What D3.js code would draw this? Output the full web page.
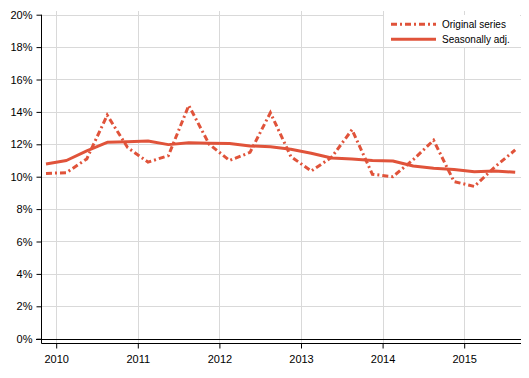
<!DOCTYPE html>
<html>
<head>
<meta charset="utf-8">
<script src="https://cdn.jsdelivr.net/npm/d3@7"></script>
<style>
  body { margin: 0; background: #fff; }
  svg { display: block; font-family: Arial, "Liberation Sans", sans-serif; }
</style>
</head>
<body>
<div id="chart"></div>
<script>
// Quarterly data (2009Q4 – 2015Q3), index positions along the axis
const quarters = d3.range(24);
const originalSeries = [10.2, 10.25, 11.1, 13.8, 11.8, 10.9, 11.3, 14.4, 12.0, 11.0, 11.5, 13.95,
                        11.25, 10.35, 11.2, 12.9, 10.15, 10.0, 11.05, 12.25, 9.7, 9.4, 10.6, 11.65];
const seasonallyAdj = [10.78, 11.0, 11.6, 12.12, 12.15, 12.2, 11.98, 12.1, 12.07, 12.05, 11.9, 11.85,
                       11.69, 11.45, 11.15, 11.1, 11.0, 10.97, 10.66, 10.52, 10.45, 10.31, 10.35, 10.27];
const yearLabels = ["2010", "2011", "2012", "2013", "2014", "2015"];
const yearTickPos = [0.5, 4.5, 8.5, 12.5, 16.5, 20.5];
const yTicks = [0, 2, 4, 6, 8, 10, 12, 14, 16, 18, 20];
const seriesNames = ["Original series", "Seasonally adj."];

const W = 529, H = 378;
const color = "#e0533a";
const plotLeft = 41.5, plotRight = 521, plotTop = 11, axisBottom = 343.5;

const svg = d3.select("#chart").append("svg").attr("width", W).attr("height", H);

const x = d3.scaleLinear().domain([0, 23]).range([46, 515.2]);
const y = d3.scaleLinear().domain([0, 20]).range([338.7, 14.7]);

// horizontal gridlines
svg.append("g").selectAll("line").data(yTicks.filter(d => d > 0)).join("line")
  .attr("x1", plotLeft).attr("x2", plotRight)
  .attr("y1", d => Math.round(y(d)) + 0.5).attr("y2", d => Math.round(y(d)) + 0.5)
  .attr("stroke", "#d9d9d9").attr("stroke-width", 1);

// vertical gridlines
svg.append("g").selectAll("line").data(yearTickPos).join("line")
  .attr("x1", d => Math.round(x(d)) + 0.5).attr("x2", d => Math.round(x(d)) + 0.5)
  .attr("y1", plotTop).attr("y2", axisBottom)
  .attr("stroke", "#d9d9d9").attr("stroke-width", 1);

// zero line
svg.append("line")
  .attr("x1", 36).attr("x2", plotRight)
  .attr("y1", Math.round(y(0)) + 0.5).attr("y2", Math.round(y(0)) + 0.5)
  .attr("stroke", "#000").attr("stroke-width", 1);

// Y axis
const yAxis = d3.axisLeft(y).tickValues(yTicks).tickFormat(d => d + "%").tickSize(5).tickPadding(4);
const gy = svg.append("g").attr("transform", `translate(${plotLeft},0)`).call(yAxis);
gy.select(".domain").remove();
gy.selectAll(".tick line").attr("stroke", "#000");
gy.selectAll(".tick text").attr("font-size", 11).attr("fill", "#000")
  .attr("font-family", "Arial, 'Liberation Sans', sans-serif");
svg.append("line").attr("x1", plotLeft).attr("x2", plotLeft)
  .attr("y1", y(20)).attr("y2", axisBottom).attr("stroke", "#000");

// X axis
const xAxis = d3.axisBottom(x).tickValues(yearTickPos)
  .tickFormat((d, i) => yearLabels[i]).tickSize(5).tickPadding(7);
const gx = svg.append("g").attr("transform", `translate(0,${axisBottom})`).call(xAxis);
gx.select(".domain").remove();
gx.selectAll(".tick line").attr("stroke", "#000");
gx.selectAll(".tick text").attr("font-size", 11).attr("fill", "#000")
  .attr("font-family", "Arial, 'Liberation Sans', sans-serif");
svg.append("line").attr("x1", plotLeft).attr("x2", plotRight)
  .attr("y1", axisBottom).attr("y2", axisBottom).attr("stroke", "#000");

// lines
const line = d3.line().x((d, i) => x(quarters[i])).y(d => y(d));
svg.append("path").datum(seasonallyAdj).attr("d", line)
  .attr("fill", "none").attr("stroke", color).attr("stroke-width", 3)
  .attr("stroke-linejoin", "round");
svg.append("path").datum(originalSeries).attr("d", line)
  .attr("fill", "none").attr("stroke", color).attr("stroke-width", 3)
  .attr("stroke-dasharray", "6,3,2,3");

// legend
const lg = svg.append("g");
lg.append("rect").attr("x", 384).attr("y", 15).attr("width", 136).attr("height", 32).attr("fill", "#fff");
const rows = lg.selectAll("g.row").data(seriesNames).join("g").attr("class", "row")
  .attr("transform", (d, i) => `translate(0,${24.3 + i * 15})`);
rows.append("line").attr("x1", 391).attr("x2", 436).attr("y1", 0).attr("y2", 0)
  .attr("stroke", color).attr("stroke-width", 3)
  .attr("stroke-dasharray", (d, i) => i === 0 ? "6,3,2,3" : null);
rows.append("text").attr("x", 442).attr("y", 3.6).attr("font-size", 10).attr("fill", "#000")
  .text(d => d);
</script>
</body>
</html>
